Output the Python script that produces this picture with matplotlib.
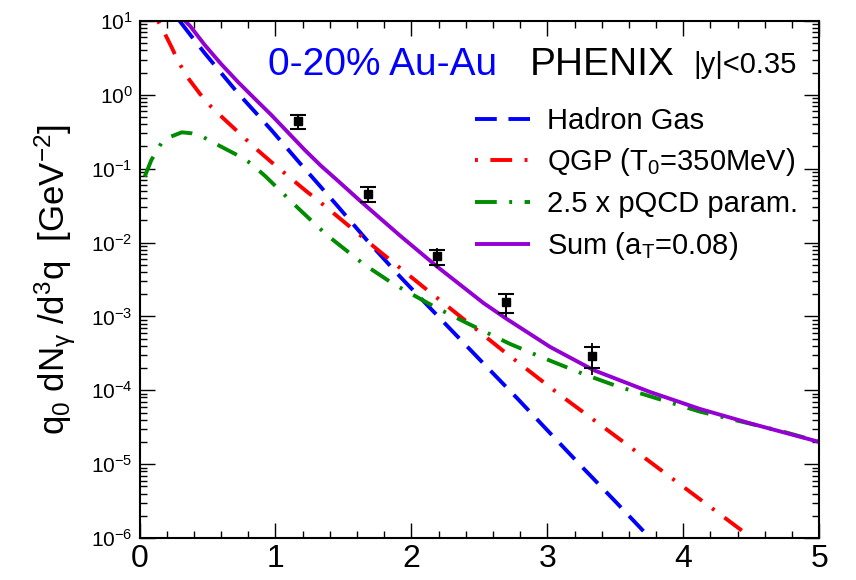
import numpy as np
import matplotlib
matplotlib.use("Agg")
import matplotlib.pyplot as plt
from matplotlib.ticker import MultipleLocator, LogLocator, FuncFormatter, NullFormatter

plt.rcParams['font.family'] = ['Liberation Sans', 'DejaVu Sans']
plt.rcParams['mathtext.fontset'] = 'custom'
plt.rcParams['mathtext.rm'] = 'Liberation Sans'
plt.rcParams['mathtext.it'] = 'Liberation Sans'
plt.rcParams['mathtext.bf'] = 'Liberation Sans:bold'

# ---------------- data ----------------
hg_q = [0.295, 0.386, 0.480, 0.600, 0.725, 0.850, 0.970, 1.181, 1.336, 1.461, 1.672, 1.917,
        2.187, 2.530, 2.776, 3.021, 3.263, 3.511, 3.707]
hg_y = [10.0, 6.07, 3.66, 1.98, 1.05, 0.586, 0.334, 0.118, 0.0560, 0.0306, 0.0108, 3.45e-3,
        1.045e-3, 2.31e-4, 7.87e-5, 2.62e-5, 8.87e-6, 2.98e-6, 1.24e-6]

qgp_q = [0.136, 0.180, 0.234, 0.291, 0.357, 0.445, 0.528, 0.622, 0.725, 0.850, 0.970, 1.093,
         1.216, 1.336, 1.461, 1.745, 2.088, 2.383, 2.677, 3.094, 3.511, 4.002, 4.492]
qgp_y = [10.0, 7.10, 4.49, 2.70, 1.69, 1.03, 0.686, 0.471, 0.314, 0.191, 0.123, 0.0796,
         0.0515, 0.0344, 0.0222, 8.18e-3, 2.51e-3, 9.23e-4, 3.40e-4, 8.63e-5, 2.33e-5, 4.91e-6, 1.04e-6]

pqcd_q = [0.038, 0.087, 0.160, 0.224, 0.311, 0.381, 0.467, 0.553, 0.725, 0.813, 0.923, 1.181,
          1.377, 1.647, 1.868, 2.174, 2.408, 2.726, 2.971, 3.266, 3.511, 4.124, 4.737, 5.0]
pqcd_y = [0.078, 0.131, 0.221, 0.269, 0.311, 0.302, 0.269, 0.221, 0.151, 0.120, 0.0800, 0.0276,
          0.0127, 5.13e-3, 2.75e-3, 1.34e-3, 8.15e-4, 4.24e-4, 2.74e-4, 1.66e-4, 1.14e-4, 5.13e-5, 2.75e-5, 2.01e-5]

sum_q = [0.335, 0.372, 0.480, 0.600, 0.725, 0.850, 0.970, 1.216, 1.336, 1.461, 1.623, 1.917,
         2.187, 2.530, 2.702, 3.021, 3.339, 3.756, 4.124, 4.492, 5.0]
sum_y = [10.0, 8.56, 4.73, 2.62, 1.49, 0.879, 0.533, 0.179, 0.109, 0.0682, 0.0367, 0.0124,
         4.76e-3, 1.52e-3, 9.23e-4, 3.86e-4, 1.88e-4, 9.48e-5, 5.58e-5, 3.57e-5, 2.00e-5]

data_q = [1.166, 1.684, 2.191, 2.697, 3.332]
data_y = [0.447, 0.0459, 6.64e-3, 1.57e-3, 2.91e-4]
sys_lo = [0.348, 0.0357, 5.01e-3, 1.10e-3, 1.99e-4]
sys_hi = [0.538, 0.0560, 8.02e-3, 2.03e-3, 3.89e-4]
stat_lo = [0.348, 0.0357, 4.57e-3, 9.73e-4, 1.61e-4]
stat_hi = [0.538, 0.0560, 8.53e-3, 2.10e-3, 4.33e-4]

labels = ['Hadron Gas', 'QGP (T$_0$=350MeV)', '2.5 x pQCD param.', 'Sum (a$_T$=0.08)']
x_ticks = [0, 1, 2, 3, 4, 5]
y_ticks = [1e-6, 1e-5, 1e-4, 1e-3, 1e-2, 1e-1, 1e0, 1e1]

# ---------------- figure ----------------
fig = plt.figure(figsize=(8.56, 5.80), dpi=100)
ax = fig.add_axes([0.163, 0.0724, 0.794, 0.8914])

lw = 2.8
l1, = ax.plot(hg_q, hg_y, color='#0000ff', lw=lw, ls=(0, (5.6, 3.0)), dash_capstyle='butt')
l2, = ax.plot(qgp_q, qgp_y, color='#ff0000', lw=lw, ls=(8.8, (5.6, 3.2, 0.75, 3.2)), dash_capstyle='butt')
l3, = ax.plot(pqcd_q, pqcd_y, color='#008c00', lw=lw, ls=(0, (5.6, 3.2, 0.75, 3.2)), dash_capstyle='butt')
l4, = ax.plot(sum_q, sum_y, color='#9400d3', lw=lw, solid_capstyle='butt')

dq = np.array(data_q); dy = np.array(data_y)
ax.errorbar(dq, dy, yerr=[dy - np.array(stat_lo), np.array(stat_hi) - dy],
            fmt='none', ecolor='k', elinewidth=1.3, capsize=0, zorder=5)
ax.errorbar(dq, dy, yerr=[dy - np.array(sys_lo), np.array(sys_hi) - dy],
            fmt='s', color='k', ms=6, elinewidth=1.3, capsize=5.6, capthick=1.5, zorder=6)

ax.set_yscale('log')
ax.set_xlim(0, 5)
ax.set_ylim(1e-6, 10)

ax.set_xticks(x_ticks)
ax.xaxis.set_minor_locator(MultipleLocator(0.2))
ax.set_yticks(y_ticks)
ax.yaxis.set_minor_locator(LogLocator(base=10, subs=np.arange(2, 10), numticks=20))
ax.yaxis.set_minor_formatter(NullFormatter())
ax.yaxis.set_major_formatter(FuncFormatter(lambda v, p: r'$\mathregular{10^{%d}}$' % int(round(np.log10(v)))))

ax.tick_params(which='both', direction='in', top=True, right=True, width=1.0)
ax.tick_params(which='major', length=11)
ax.tick_params(which='minor', length=5)
ax.tick_params(axis='x', which='major', labelsize=23, pad=4)
ax.tick_params(axis='y', which='major', labelsize=15, pad=5)
for s in ax.spines.values():
    s.set_linewidth(1.5)

ax.set_ylabel(r'q$_0$ dN$_{\mathrm{\gamma}}$ /d$^3$q  [GeV$^{-2}$]', fontsize=25)
ax.yaxis.set_label_coords(-0.09, 0.5)

ax.text(0.189, 0.8956, '0-20% Au-Au', color='#0000ff', fontsize=28,
        transform=ax.transAxes, va='baseline', ha='left')
ax.text(0.5747, 0.8956, 'PHENIX', color='k', fontsize=28,
        transform=ax.transAxes, va='baseline', ha='left')
ax.text(0.8146, 0.899, '|y|<0.35', color='k', fontsize=21,
        transform=ax.transAxes, va='baseline', ha='left')

leg = ax.legend([l1, l2, l3, l4], labels, loc='upper left', bbox_to_anchor=(0.4937, 0.834),
                frameon=False, fontsize=21, handlelength=1.9, handletextpad=0.55,
                labelspacing=0.4, borderpad=0, borderaxespad=0)

fig.savefig('out.png', dpi=100)
